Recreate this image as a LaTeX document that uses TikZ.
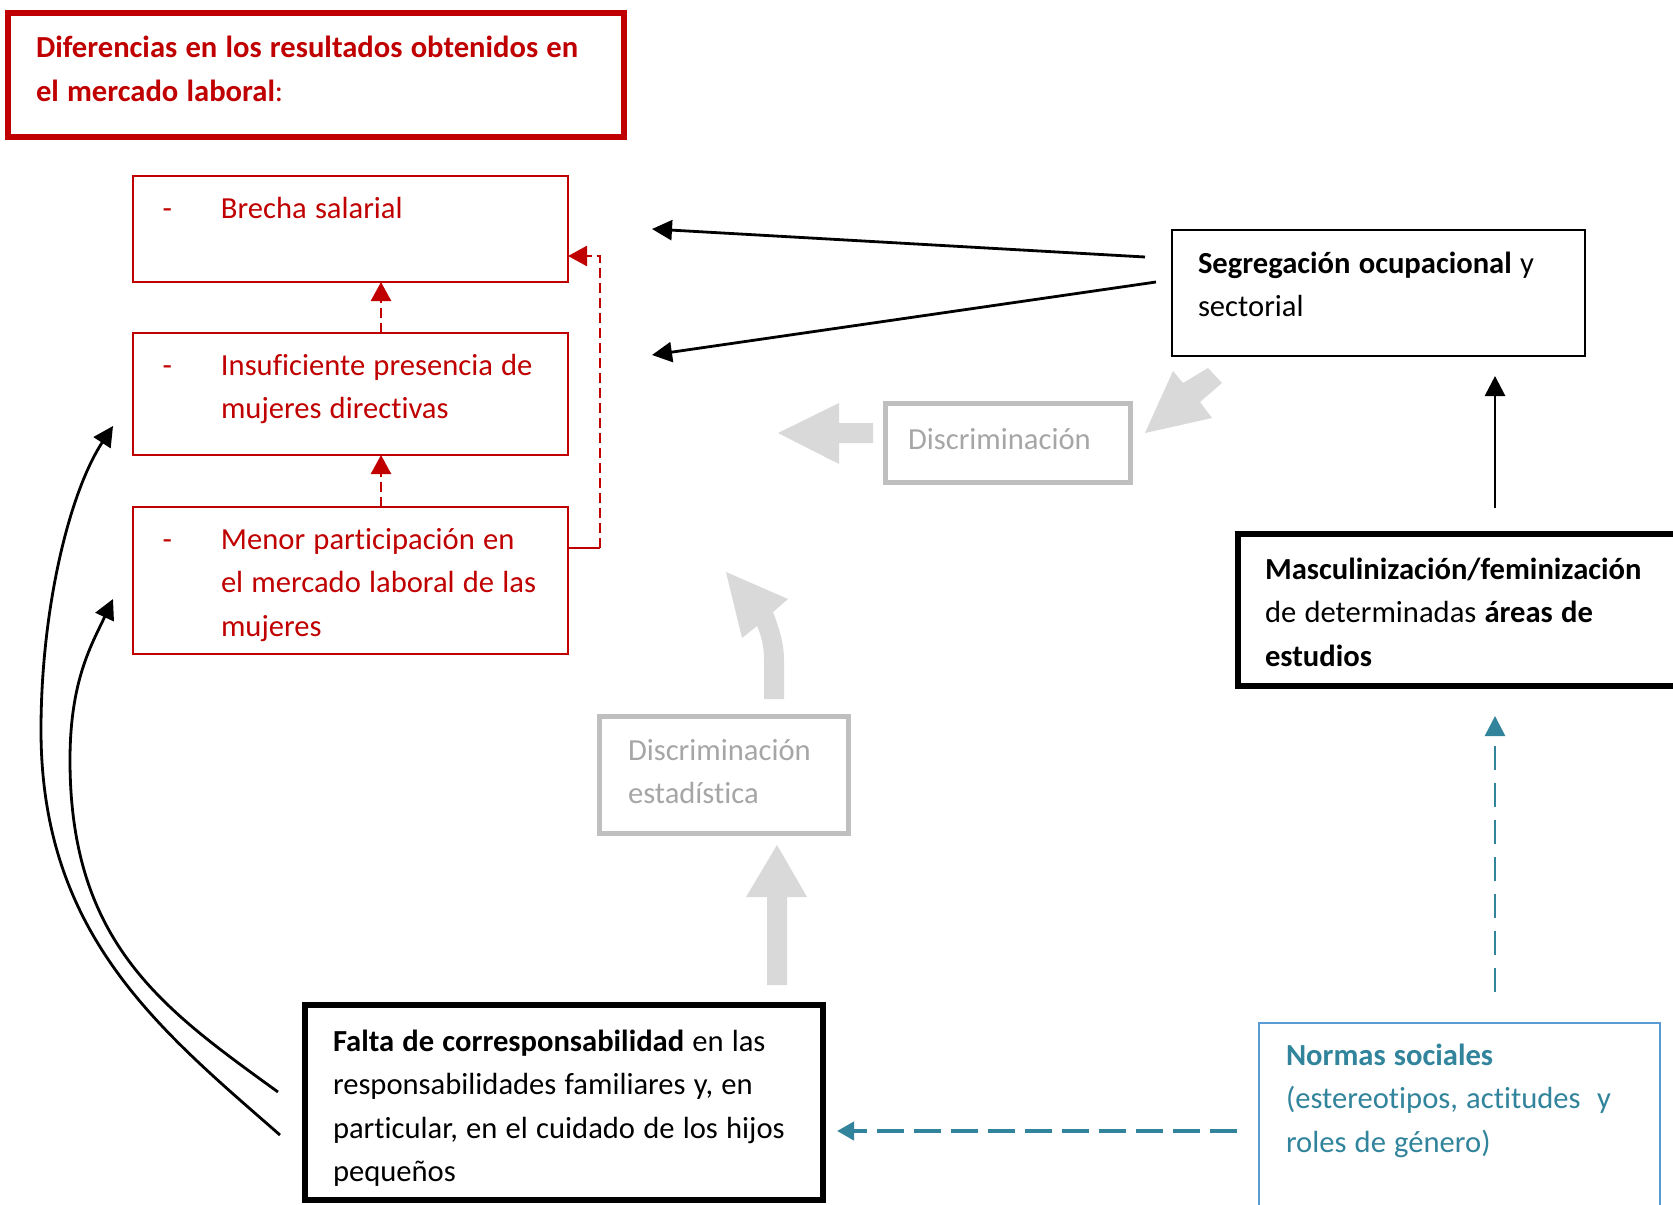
\documentclass[tikz,border=0pt]{standalone}
\usepackage{fontspec}
\setmainfont{Carlito}[Ligatures=NoCommon]
\usetikzlibrary{arrows.meta,calc}
\definecolor{redc}{HTML}{C00000}
\definecolor{tealc}{HTML}{31849B}
\definecolor{bluebox}{HTML}{5B9BD5}
\definecolor{grayline}{HTML}{BFBFBF}
\definecolor{graytext}{HTML}{A6A6A6}
\definecolor{grayfill}{HTML}{D9D9D9}
\newcommand{\diagfont}{\fontsize{15.3}{21.75}\selectfont}
\newcommand{\natspace}{\spaceskip=0.268em\relax\xspaceskip=0.268em\relax}
\begin{document}
\begin{tikzpicture}[x=0.5pt,y=-0.5pt,
  box/.style={draw, rectangle, anchor=north west, inner sep=0pt, outer sep=0pt},
  redbox/.style={box, draw=redc, line width=1.25pt},
  blkbox/.style={box, draw=black, line width=#1},
  graybox/.style={box, draw=grayline, line width=2.5pt},
  txt/.style={anchor=base west, inner sep=0pt, outer sep=0pt, text width=290pt,
              font=\diagfont, execute at begin node=\natspace},
  blk/.style={draw=black, line width=1.4pt, -{Triangle[length=10pt,width=10pt]}},
  reddash/.style={draw=redc, line width=1.25pt, dash pattern=on 5pt off 2.5pt},
  redtip/.style={-{Triangle[length=9.5pt,width=10pt]}, redc},
  bluev/.style={draw=tealc, line width=1.35pt, dash pattern=on 12pt off 6.5pt, -{Triangle[length=10pt,width=10pt]}},
  blueh/.style={draw=tealc, line width=2pt, dash pattern=on 13.5pt off 5pt, -{Triangle[length=8.5pt,width=9pt]}},
  grayarrow/.style={fill=grayfill, draw=none}
]
\useasboundingbox (0,0) rectangle (1673,1204);
\fill[white] (0,0) rectangle (1673,1204);
\clip (0,0) rectangle (1673,1204);

% ---- boxes ----
\node[box, draw=redc, line width=3pt, minimum width=308pt, minimum height=62pt] (title) at (8,13) {};
\node[redbox, minimum width=217.5pt, minimum height=53pt] (brecha) at (133,176) {};
\node[redbox, minimum width=217.5pt, minimum height=61pt] (insuf) at (133,333) {};
\node[redbox, minimum width=217.5pt, minimum height=73.5pt] (menor) at (133,507) {};
\node[blkbox=1.25pt, minimum width=206.5pt, minimum height=63pt] (seg) at (1172,230) {};
\node[graybox, minimum width=122.5pt, minimum height=39.5pt] (disc) at (885.5,403.5) {};
\node[graybox, minimum width=124.5pt, minimum height=58.5pt] (discest) at (599.5,716.5) {};
\node[blkbox=3pt, minimum width=231pt, minimum height=76pt] (masc) at (1238,534) {};
\node[blkbox=3pt, minimum width=259pt, minimum height=97.5pt] (falta) at (305,1005) {};
\node[box, draw=bluebox, line width=1pt, minimum width=200.5pt, minimum height=103.5pt] (normas) at (1259,1023) {};

% ---- texts ----
\node[txt, text=redc] (titleT) at (36,58) {\textbf{Diferencias en los resultados obtenidos en}\\\textbf{el mercado laboral}:};
\node[txt, text=redc] (brechaT) at (221,218) {\leavevmode\llap{-\hspace{24.5pt}}Brecha salarial};
\node[txt, text=redc] (insufT) at (221,375) {\leavevmode\llap{-\hspace{24.5pt}}Insuficiente presencia de\\mujeres directivas};
\node[txt, text=redc] (menorT) at (221,549) {\leavevmode\llap{-\hspace{24.5pt}}Menor participación en\\el mercado laboral de las\\mujeres};
\node[txt] (segT) at (1198,273) {\textbf{Segregación ocupacional} y\\sectorial};
\node[txt, text=graytext] (discT) at (908,449) {Discriminación};
\node[txt, text=graytext] (discestT) at (628,760) {Discriminación\\estadística};
\node[txt] (mascT) at (1265,579) {\textbf{Masculinización/feminización}\\de determinadas \textbf{áreas de}\\\textbf{estudios}};
\node[txt] (faltaT) at (333,1051) {\textbf{Falta de corresponsabilidad} en las\\responsabilidades familiares y, en\\particular, en el cuidado de los hijos\\pequeños};
\node[txt, text=tealc] (normasT) at (1286,1065) {\textbf{Normas sociales}\\(estereotipos, actitudes\ \ y\\roles de género)};

% ---- red connectors ----
\draw[reddash, redtip] ([xshift=15.25pt]insuf.north) -- ([xshift=15.25pt]brecha.south);
\draw[reddash, redtip] ([xshift=15.25pt]menor.north) -- ([xshift=15.25pt]insuf.south);
\coordinate (rc) at ($([yshift=-20.5pt]menor.north east)+(32,0)$);
\draw[redc, line width=1.25pt] ([yshift=-20.5pt]menor.north east) -- (rc);
\draw[reddash, redtip] (rc) |- ([yshift=-40pt]brecha.north east);

% ---- black connectors ----
\coordinate (t1) at (652,229);
\coordinate (t2) at (652,355);
\draw[blk] ([shift={(-27,27)}]seg.north west) -- (t1);
\draw[blk] ([shift={(-16,52)}]seg.north west) -- (t2);
\coordinate (mtop) at ([shift={(257,-26)}]masc.north west);
\coordinate (stip) at ([shift={(323,20)}]seg.south west);
\draw[blk] (mtop) -- (stip);

% curves from Falta
\coordinate (c1s) at ([shift={(-25,130)}]falta.north west);
\coordinate (c1m) at (41,730);
\coordinate (c1e) at ([shift={(-20,93)}]insuf.north west);
\draw[blk] (c1s) .. controls (160,1030) and (41,935) .. (c1m)
               .. controls (41,610) and (69,493) .. (c1e);
\coordinate (c2s) at ([shift={(-27,87)}]falta.north west);
\coordinate (c2m) at (70,760);
\coordinate (c2e) at ([shift={(-20,92)}]menor.north west);
\draw[blk] (c2s) .. controls (165,1010) and (70,945) .. (c2m)
               .. controls (70,680) and (92,644) .. (c2e);

% ---- blue connectors ----
\draw[bluev] ([shift={(236,-31)}]normas.north west) -- ([shift={(257,30)}]masc.south west);
\draw[blueh] ([shift={(-22,108)}]normas.north west) -- ([shift={(14,126)}]falta.north east);

% ---- gray block arrows ----
\fill[grayarrow] (778,433) -- (839,403) -- (839,423) -- (873,423) -- (873,443) -- (839,443) -- (839,464) -- cycle;
\fill[grayarrow] (1145,433) -- (1173,371) -- (1183,383) -- (1208,368) -- (1222,383) -- (1200,402) -- (1212,418) -- cycle;
\fill[grayarrow] (777,845) -- (807,897) -- (787,897) -- (787,985) -- (767,985) -- (767,897) -- (746,897) -- cycle;
\fill[grayarrow] (764,699) -- (764,660) .. controls (764,645) and (761,635) .. (757,626) -- (742,638) -- (726,572)
   -- (788,599) -- (773,612) .. controls (780,630) and (784,645) .. (784,660) -- (784,699) -- cycle;
\end{tikzpicture}
\end{document}
